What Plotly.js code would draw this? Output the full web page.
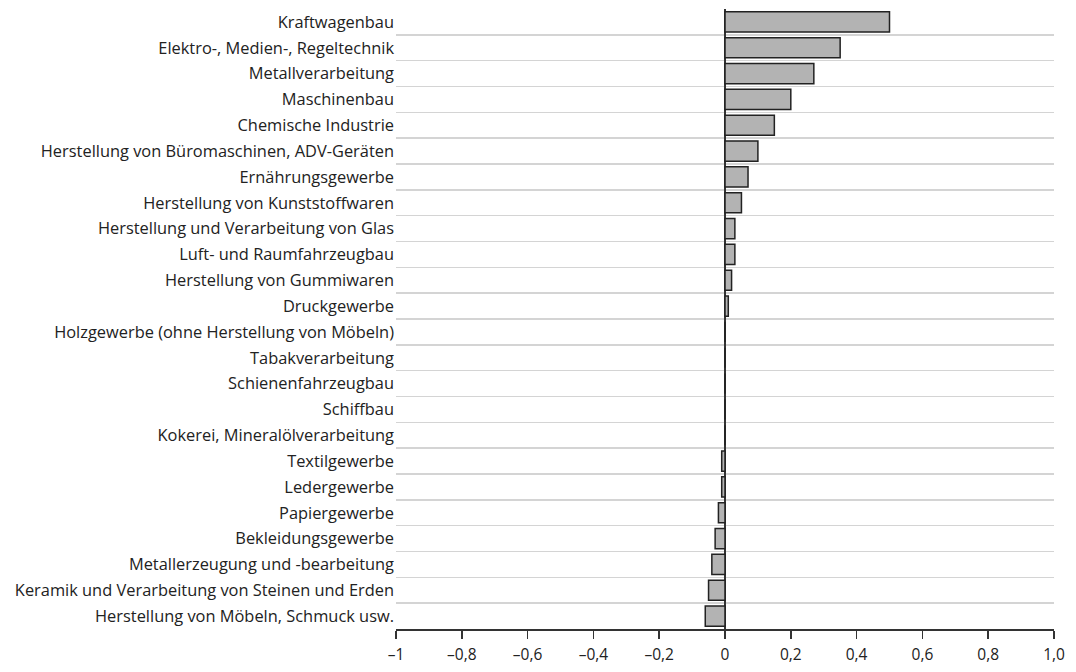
<!DOCTYPE html>
<html><head><meta charset="utf-8">
<script src="https://cdn.plot.ly/plotly-3.0.1.min.js"></script>
<style>html,body{margin:0;padding:0;background:#fff}#chart{width:1076px;height:672px}</style>
</head><body><div id="chart"></div>
<script>
const categories = [
  "Kraftwagenbau",
  "Elektro-, Medien-, Regeltechnik",
  "Metallverarbeitung",
  "Maschinenbau",
  "Chemische Industrie",
  "Herstellung von Büromaschinen, ADV-Geräten",
  "Ernährungsgewerbe",
  "Herstellung von Kunststoffwaren",
  "Herstellung und Verarbeitung von Glas",
  "Luft- und Raumfahrzeugbau",
  "Herstellung von Gummiwaren",
  "Druckgewerbe",
  "Holzgewerbe (ohne Herstellung von Möbeln)",
  "Tabakverarbeitung",
  "Schienenfahrzeugbau",
  "Schiffbau",
  "Kokerei, Mineralölverarbeitung",
  "Textilgewerbe",
  "Ledergewerbe",
  "Papiergewerbe",
  "Bekleidungsgewerbe",
  "Metallerzeugung und -bearbeitung",
  "Keramik und Verarbeitung von Steinen und Erden",
  "Herstellung von Möbeln, Schmuck usw."
];
const values = [0.50, 0.35, 0.27, 0.20, 0.15, 0.10, 0.07, 0.05, 0.03, 0.03, 0.02, 0.01,
  0, 0, 0, 0, 0, -0.01, -0.01, -0.02, -0.03, -0.04, -0.05, -0.06];
const xTickVals = [-1, -0.8, -0.6, -0.4, -0.2, 0, 0.2, 0.4, 0.6, 0.8, 1.0];
const xTickText = ["–1", "–0,8", "–0,6", "–0,4", "–0,2", "0", "0,2", "0,4", "0,6", "0,8", "1,0"];

const trace = {
  type: "bar",
  orientation: "h",
  y: categories,
  x: values,
  marker: {color: "#b3b3b3", line: {color: "#222222", width: 1.5}},
  hoverinfo: "x+y"
};

const layout = {
  width: 1076, height: 672,
  margin: {l: 396, r: 22, t: 9, b: 43},
  paper_bgcolor: "#ffffff", plot_bgcolor: "#ffffff",
  font: {family: "'Open Sans', sans-serif", size: 15, color: "#222"},
  showlegend: false,
  bargap: 0.22,
  xaxis: {
    range: [-1, 1],
    tickvals: xTickVals, ticktext: xTickText,
    showgrid: false,
    zeroline: true, zerolinecolor: "#333333", zerolinewidth: 1.5,
    showline: true, linecolor: "#333333", linewidth: 1.5,
    ticks: "outside", ticklen: 8, tickcolor: "#333333", tickwidth: 1.5,
    ticklabelstandoff: 3,
    tickfont: {size: 15.5, color: "#222"},
    fixedrange: true
  },
  yaxis: {
    type: "category",
    autorange: "reversed",
    tickson: "boundaries",
    showgrid: true, gridcolor: "#d4d4d4", gridwidth: 1.5,
    ticks: "", showline: false, zeroline: false,
    ticklabelstandoff: 1,
    tickfont: {size: 16.4, color: "#222"},
    fixedrange: true
  }
};

Plotly.newPlot("chart", [trace], layout, {displayModeBar: false, staticPlot: true});
</script>
</body></html>
